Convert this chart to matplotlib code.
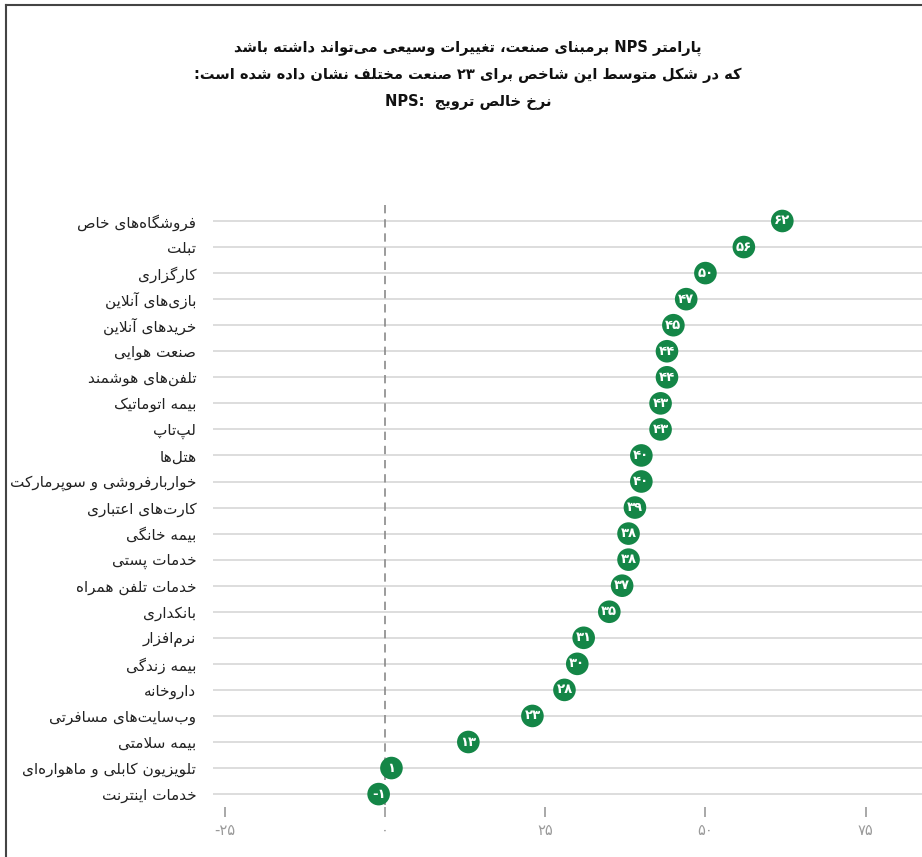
import numpy as np
import matplotlib
matplotlib.use('Agg')
import matplotlib.pyplot as plt
from matplotlib.lines import Line2D


# Chart data (top row first)
industries = [
    'فروشگاه‌های خاص',
    'تبلت',
    'کارگزاری',
    'بازی‌های آنلاین',
    'خریدهای آنلاین',
    'صنعت هوایی',
    'تلفن‌های هوشمند',
    'بیمه اتوماتیک',
    'لپ‌تاپ',
    'هتل‌ها',
    'خواربارفروشی و سوپرمارکت',
    'کارت‌های اعتباری',
    'بیمه خانگی',
    'خدمات پستی',
    'خدمات تلفن همراه',
    'بانکداری',
    'نرم‌افزار',
    'بیمه زندگی',
    'داروخانه',
    'وب‌سایت‌های مسافرتی',
    'بیمه سلامتی',
    'تلویزیون کابلی و ماهواره‌ای',
    'خدمات اینترنت',
]
nps_values = [62, 56, 50, 47, 45, 44, 44, 43, 43, 40, 40, 39, 38, 38, 37, 35, 31, 30, 28, 23, 13, 1, -1]
x_ticks = [-25, 0, 25, 50, 75]

title_lines = [
    'پارامتر NPS برمبنای صنعت، تغییرات وسیعی می‌تواند داشته باشد',
    'که در شکل متوسط این شاخص برای ۲۳ صنعت مختلف نشان داده شده است:',
]
title_nps = 'نرخ خالص ترویج'


# Arabic presentation forms: letter -> (isolated codepoint, number of forms)
FORMS = {
    'ء': (0xFE80, 1), 'آ': (0xFE81, 2), 'أ': (0xFE83, 2), 'ؤ': (0xFE85, 2), 'إ': (0xFE87, 2),
    'ئ': (0xFE89, 4), 'ا': (0xFE8D, 2), 'ب': (0xFE8F, 4), 'ة': (0xFE93, 2), 'ت': (0xFE95, 4),
    'ث': (0xFE99, 4), 'ج': (0xFE9D, 4), 'ح': (0xFEA1, 4), 'خ': (0xFEA5, 4), 'د': (0xFEA9, 2),
    'ذ': (0xFEAB, 2), 'ر': (0xFEAD, 2), 'ز': (0xFEAF, 2), 'س': (0xFEB1, 4), 'ش': (0xFEB5, 4),
    'ص': (0xFEB9, 4), 'ض': (0xFEBD, 4), 'ط': (0xFEC1, 4), 'ظ': (0xFEC5, 4), 'ع': (0xFEC9, 4),
    'غ': (0xFECD, 4), 'ف': (0xFED1, 4), 'ق': (0xFED5, 4), 'ل': (0xFEDD, 4), 'م': (0xFEE1, 4),
    'ن': (0xFEE5, 4), 'ه': (0xFEE9, 4), 'و': (0xFEED, 2),
    'پ': (0xFB56, 4), 'چ': (0xFB7A, 4), 'ژ': (0xFB8A, 2), 'ک': (0xFB8E, 4), 'گ': (0xFB92, 4),
    'ی': (0xFBFC, 4),
}
LAMALEF = {'ا': (0xFEFB, 0xFEFC), 'آ': (0xFEF5, 0xFEF6), 'أ': (0xFEF7, 0xFEF8), 'إ': (0xFEF9, 0xFEFA)}


def shapeText(s):
    """ Replace Persian letters with their joined presentation forms (logical order kept). """

    s = s.replace('ي', 'ی').replace('ك', 'ک')
    out = []
    prev_join = False
    i = 0

    while i < len(s):
        c = s[i]
        nxt = s[i + 1] if i + 1 < len(s) else ''

        # Non letters break the joining, ZWNJ is dropped
        if c not in FORMS:
            if c != '\u200c':
                out.append(c)
            prev_join = False
            i += 1
            continue

        # Lam-alef ligature
        if c == 'ل' and nxt in LAMALEF:
            iso, fin = LAMALEF[nxt]
            out.append(chr(fin if prev_join else iso))
            prev_join = False
            i += 2
            continue

        base, nf = FORMS[c]
        conn_prev = prev_join and nf > 1
        conn_next = nf == 4 and nxt in FORMS and FORMS[nxt][1] > 1

        if conn_prev and conn_next:
            out.append(chr(base + 3))
        elif conn_next:
            out.append(chr(base + 2))
        elif conn_prev:
            out.append(chr(base + 1))
        else:
            out.append(chr(base))

        prev_join = conn_next
        i += 1

    return ''.join(out)


def charType(c):
    """ Simple bidi class: L, R or N. """

    if c.isascii() and c.isalnum():
        return 'L'
    if '\u06f0' <= c <= '\u06f9':
        return 'L'
    o = ord(c)
    if 0x0600 <= o <= 0x06FF or 0xFB50 <= o <= 0xFDFF or 0xFE70 <= o <= 0xFEFF:
        return 'R'
    return 'N'


def fa(s):
    """ Shape a right-to-left string and put it in visual order. """

    sh = shapeText(s)
    types = [charType(c) for c in sh]

    # Resolve neutrals
    i = 0
    while i < len(types):
        if types[i] != 'N':
            i += 1
            continue
        j = i
        while j < len(types) and types[j] == 'N':
            j += 1
        before = types[i - 1] if i > 0 else 'R'
        after = types[j] if j < len(types) else 'R'
        t = 'L' if (before == 'L' and after == 'L') else 'R'
        for k in range(i, j):
            types[k] = t
        i = j

    # Group in runs and reverse
    runs = []
    for c, t in zip(sh, types):
        if runs and runs[-1][0] == t:
            runs[-1][1].append(c)
        else:
            runs.append([t, [c]])

    out = ''
    for t, cs in reversed(runs):
        out += ''.join(reversed(cs)) if t == 'R' else ''.join(cs)

    return out


def faNum(v):
    """ Number with Persian digits. """

    digits = str(abs(v)).translate(str.maketrans('0123456789', '۰۱۲۳۴۵۶۷۸۹'))
    return ('-' if v < 0 else '') + digits


plt.rcParams['font.family'] = ['DejaVu Sans']

W, H = 922, 857
fig = plt.figure(figsize=(W / 100, H / 100), dpi=100)

# Axes placed in pixels
ax_left, ax_right, ax_top, ax_bottom = 213, 922, 200, 817
ax = fig.add_axes([ax_left / W, 1 - ax_bottom / H, (ax_right - ax_left) / W, (ax_bottom - ax_top) / H])

n = len(industries)
y_pos = np.arange(n)

x_min, x_max = -26.85, 83.8
row_px = 26.05
ax.set_xlim(x_min, x_max)
ax.set_ylim((ax_bottom - 221) / row_px, -(221 - ax_top) / row_px)

# Row grid lines
ax.hlines(y_pos, x_min, x_max, color='#dddddd', linewidth=1.4, zorder=1)

# Zero line
ax.vlines(0, -0.6, 22.4, color='#8a8a8a', linewidth=1.2, linestyles=(0, (5, 3.5)), zorder=2)

# Dots with values
green = '#148647'
ax.scatter(nps_values, y_pos, s=265, color=green, edgecolors='none', zorder=3)
for v, y in zip(nps_values, y_pos):
    ax.text(v, y, faNum(v), color='white', fontsize=9.5, fontweight='bold',
            ha='center', va='center', zorder=4)

# Axes styling
for sp in ax.spines.values():
    sp.set_visible(False)

ax.set_yticks(y_pos)
ax.set_yticklabels([fa(s) for s in industries], fontsize=11, color='#222222')
ax.tick_params(axis='y', length=0, pad=12)

ax.set_xticks(x_ticks)
ax.set_xticklabels([faNum(t) for t in x_ticks], fontsize=10.5, color='#9a9a9a')
ax.tick_params(axis='x', direction='in', length=7, width=1.2, color='#9a9a9a', pad=4)

# Title
title_y = [48, 75, 102]
title_size = 10.5
fig.text(468 / W, 1 - title_y[0] / H, fa(title_lines[0]), ha='center', va='center',
         fontsize=title_size, fontweight='bold', color='#111111')
fig.text(468 / W, 1 - title_y[1] / H, fa(title_lines[1]), ha='center', va='center',
         fontsize=title_size, fontweight='bold', color='#111111')
fig.text(468 / W, 1 - title_y[2] / H, 'NPS:  ' + fa(title_nps), ha='center', va='center',
         fontsize=title_size, fontweight='bold', color='#111111')

# Frame lines (top and left)
fig.add_artist(Line2D([6 / W, 1], [1 - 5 / H, 1 - 5 / H], color='#444444', linewidth=1.5))
fig.add_artist(Line2D([6 / W, 6 / W], [0, 1 - 5 / H], color='#444444', linewidth=1.5))

fig.savefig('out.png', dpi=100)
